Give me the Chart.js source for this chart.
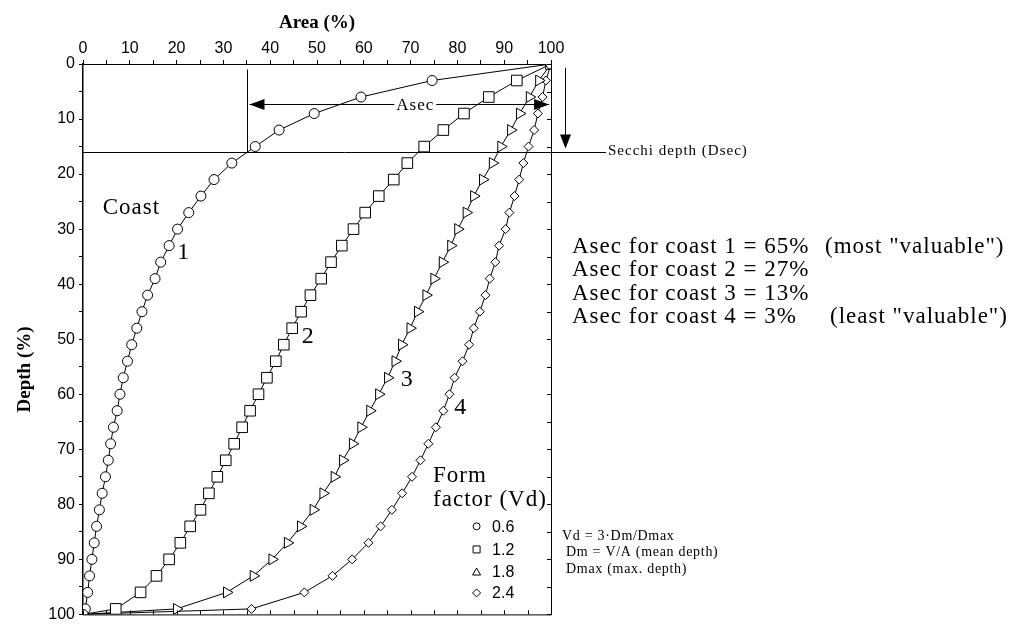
<!DOCTYPE html>
<html>
<head>
<meta charset="utf-8">
<script src="https://cdn.jsdelivr.net/npm/chart.js@4.4.0/dist/chart.umd.min.js"></script>
<style>
  html, body { margin: 0; padding: 0; background: #fff; }
  #wrap { width: 1015px; height: 628px; position: relative; }
</style>
</head>
<body>
<div id="wrap"><canvas id="chart"></canvas></div>
<script>
// depth steps (% of max depth), shared by the four coasts
const depth = [0, 3, 6, 9, 12, 15, 18, 21, 24, 27, 30, 33, 36, 39, 42, 45, 48, 51,
  54, 57, 60, 63, 66, 69, 72, 75, 78, 81, 84, 87, 90, 93, 96, 99, 100];

// area (%) at each depth
const coast1 = [100, 74.6, 59.4, 49.4, 41.9, 36.8, 31.8, 28, 25.2, 22.6, 20.2, 18.4, 16.6,
  15.4, 13.8, 12.6, 11.5, 10.4, 9.5, 8.6, 7.9, 7.3, 6.5, 5.9, 5.4, 4.8, 4.1, 3.5, 2.9,
  2.4, 1.9, 1.4, 1.0, 0.5, 0];
const coast2 = [100, 92.7, 86.7, 81.4, 77, 72.9, 69.3, 66.4, 63.2, 60.3, 57.8, 55.3, 53,
  50.9, 48.6, 46.6, 44.7, 42.9, 41.2, 39.3, 37.5, 35.7, 34, 32.3, 30.5, 28.7, 26.9, 25.1,
  22.9, 20.8, 18.4, 15.7, 12.3, 7, 0];
const coast3 = [100, 97.4, 95.4, 93.3, 91.4, 89.3, 87.5, 85.4, 83.5, 81.9, 80.1, 78.6, 76.8,
  75, 73.3, 71.5, 69.9, 68.1, 66.7, 65.1, 63.2, 61.3, 59.4, 57.6, 55.5, 53.7, 51.3, 49.2,
  46.5, 43.7, 40.4, 36.4, 30.7, 20, 0];
const coast4 = [100, 98.9, 98.2, 97.2, 96.4, 95.2, 94.1, 93.2, 92.2, 91.1, 90.3, 88.9, 88.1,
  86.9, 86, 84.8, 83.5, 82.5, 81.1, 79.4, 78.3, 77, 75.4, 73.8, 72.1, 70.3, 68.2, 66,
  63.6, 61, 57.5, 53.3, 47.3, 36, 0];

const majorTicks = [0, 10, 20, 30, 40, 50, 60, 70, 80, 90, 100];
const minorTicks = [5, 15, 25, 35, 45, 55, 65, 75, 85, 95];

const formFactor = ['0.6', '1.2', '1.8', '2.4'];
const asecLines = ['Asec for coast 1 = 65%', 'Asec for coast 2 = 27%',
  'Asec for coast 3 = 13%', 'Asec for coast 4 = 3%'];
const secchiDepth = 16;
const asecStart = 35;

const serif = '"Liberation Serif", "Times New Roman", serif';
const narrow = '"Liberation Sans Narrow", "Liberation Sans", Arial, sans-serif';

function toPoints(area) {
  return depth.map((d, i) => ({ x: area[i], y: d }));
}

function series(area, style, radius, rotation) {
  return {
    data: toPoints(area),
    showLine: true,
    borderColor: '#000',
    borderWidth: 1,
    pointStyle: style,
    pointRadius: radius,
    pointRotation: rotation || 0,
    pointBackgroundColor: '#fff',
    pointBorderColor: '#000',
    pointBorderWidth: 1
  };
}

function allTicks(scale) {
  scale.ticks = majorTicks.concat(minorTicks).sort((a, b) => a - b).map(v => ({ value: v }));
}

function arrowHead(ctx, x, y, dir, len, half) {
  ctx.beginPath();
  if (dir === 'left') { ctx.moveTo(x, y); ctx.lineTo(x + len, y - half); ctx.lineTo(x + len, y + half); }
  if (dir === 'right') { ctx.moveTo(x, y); ctx.lineTo(x - len, y - half); ctx.lineTo(x - len, y + half); }
  if (dir === 'down') { ctx.moveTo(x, y); ctx.lineTo(x - half, y - len); ctx.lineTo(x + half, y - len); }
  ctx.closePath();
  ctx.fill();
}

// the old screen font is wider than Times, so text gets a little spacing
function spaced(ctx, px) {
  ctx.letterSpacing = px + 'px';
}

const notes = {
  id: 'notes',
  afterDraw(chart) {
    const { ctx, chartArea: a, scales: { x, y } } = chart;
    ctx.save();
    ctx.strokeStyle = '#000';
    ctx.fillStyle = '#000';
    ctx.lineWidth = 1;

    // right and bottom frame with inward ticks
    ctx.beginPath();
    ctx.moveTo(a.left, a.bottom + 0.5); ctx.lineTo(a.right + 0.5, a.bottom + 0.5);
    ctx.lineTo(a.right + 0.5, a.top);
    x.ticks.forEach(t => {
      const px = Math.round(x.getPixelForValue(t.value)) + 0.5;
      ctx.moveTo(px, a.bottom); ctx.lineTo(px, a.bottom - 4);
    });
    y.ticks.forEach(t => {
      const py = Math.round(y.getPixelForValue(t.value)) + 0.5;
      ctx.moveTo(a.right, py); ctx.lineTo(a.right - 4, py);
    });
    ctx.stroke();

    // Secchi depth line
    const sy = Math.round(y.getPixelForValue(secchiDepth)) + 0.5;
    ctx.beginPath();
    ctx.moveTo(a.left, sy); ctx.lineTo(a.right + 55, sy);
    ctx.stroke();
    ctx.font = '15px ' + serif;
    spaced(ctx, 1);
    ctx.textBaseline = 'middle';
    ctx.textAlign = 'left';
    ctx.fillText('Secchi depth (Dsec)', a.right + 57, sy - 1);

    // vertical marker at Asec start
    const vx = Math.round(x.getPixelForValue(asecStart)) + 0.5;
    ctx.beginPath();
    ctx.moveTo(vx, y.getPixelForValue(1)); ctx.lineTo(vx, sy);
    ctx.stroke();

    // Asec double arrow
    const ay = Math.round(y.getPixelForValue(7.3)) + 0.5;
    const ax1 = vx + 2, ax2 = x.getPixelForValue(99.6);
    ctx.beginPath();
    ctx.moveTo(ax1, ay); ctx.lineTo(ax2, ay);
    ctx.stroke();
    arrowHead(ctx, ax1, ay, 'left', 15, 5.5);
    arrowHead(ctx, ax2, ay, 'right', 15, 5.5);
    ctx.font = '17px ' + serif;
    spaced(ctx, 1);
    ctx.textAlign = 'center';
    const tx = x.getPixelForValue(71);
    const tw = ctx.measureText('Asec').width;
    ctx.fillStyle = '#fff';
    ctx.fillRect(tx - tw / 2 - 2, ay - 4, tw + 4, 8);
    ctx.fillStyle = '#000';
    ctx.fillText('Asec', tx, ay + 1);

    // down arrow to Secchi depth
    const dx = a.right + 14.5;
    ctx.beginPath();
    ctx.moveTo(dx, y.getPixelForValue(0.7)); ctx.lineTo(dx, sy - 6);
    ctx.stroke();
    arrowHead(ctx, dx, sy - 4, 'down', 14, 5.5);

    // curve labels
    ctx.textAlign = 'left';
    ctx.font = '23px ' + serif;
    ctx.fillText('Coast', x.getPixelForValue(4.2), y.getPixelForValue(26.2));
    spaced(ctx, 0);
    ctx.textAlign = 'center';
    ctx.font = '24px ' + serif;
    ctx.fillText('1', x.getPixelForValue(21.4), y.getPixelForValue(34.2));
    ctx.fillText('2', x.getPixelForValue(48), y.getPixelForValue(49.5));
    ctx.fillText('3', x.getPixelForValue(69.2), y.getPixelForValue(57.3));
    ctx.fillText('4', x.getPixelForValue(80.6), y.getPixelForValue(62.5));

    // form factor legend
    ctx.textAlign = 'left';
    ctx.font = '23px ' + serif;
    spaced(ctx, 1);
    ctx.fillText('Form', x.getPixelForValue(74.8), y.getPixelForValue(74.9));
    ctx.fillText('factor (Vd)', x.getPixelForValue(74.8), y.getPixelForValue(79.2));
    spaced(ctx, 0);
    const lx = x.getPixelForValue(84.1), ltx = x.getPixelForValue(87.4);
    const rows = [84, 88.2, 92.3, 96.1];
    ctx.font = '16px ' + narrow;
    formFactor.forEach((f, i) => {
      const py = y.getPixelForValue(rows[i]);
      ctx.beginPath();
      if (i === 0) ctx.arc(lx, py, 3.5, 0, Math.PI * 2);
      if (i === 1) ctx.rect(lx - 3.5, py - 3.5, 7, 7);
      if (i === 2) { ctx.moveTo(lx, py - 4); ctx.lineTo(lx + 4, py + 3); ctx.lineTo(lx - 4, py + 3); ctx.closePath(); }
      if (i === 3) { ctx.moveTo(lx, py - 4); ctx.lineTo(lx + 4, py); ctx.lineTo(lx, py + 4); ctx.lineTo(lx - 4, py); ctx.closePath(); }
      ctx.stroke();
      ctx.fillText(f, ltx, py + 1);
    });

    // formula notes
    ctx.font = '14px ' + serif;
    spaced(ctx, 0.7);
    ctx.fillText('Vd = 3\u00b7Dm/Dmax', a.right + 11, y.getPixelForValue(85.8));
    ctx.fillText('Dm = V/A (mean depth)', a.right + 15, y.getPixelForValue(88.8));
    ctx.fillText('Dmax (max. depth)', a.right + 15, y.getPixelForValue(91.8));

    // Asec summary
    ctx.font = '23px ' + serif;
    spaced(ctx, 1);
    const rowY = [33.3, 37.5, 41.7, 45.9];
    asecLines.forEach((s, i) => {
      ctx.fillText(s, a.right + 21, y.getPixelForValue(rowY[i]));
    });
    ctx.fillText('(most "valuable")', a.right + 274, y.getPixelForValue(rowY[0]));
    ctx.fillText('(least "valuable")', a.right + 279, y.getPixelForValue(rowY[3]));
    spaced(ctx, 0);

    // depth axis title
    ctx.save();
    ctx.translate(25, y.getPixelForValue(55.5));
    ctx.rotate(-Math.PI / 2);
    ctx.textAlign = 'center';
    ctx.font = 'bold 19px ' + serif;
    ctx.fillText('Depth (%)', 0, 0);
    ctx.restore();

    ctx.restore();
  }
};

new Chart(document.getElementById('chart'), {
  type: 'scatter',
  data: {
    datasets: [
      series(coast1, 'circle', 5),
      series(coast2, 'rect', 7.5),
      series(coast3, 'triangle', 6.3, 90),
      series(coast4, 'rectRot', 4.5)
    ]
  },
  plugins: [notes],
  options: {
    responsive: true,
    maintainAspectRatio: false,
    animation: false,
    layout: { padding: { left: 0, top: 0, right: 464, bottom: 10 } },
    plugins: { legend: { display: false }, tooltip: { enabled: false } },
    scales: {
      x: {
        type: 'linear',
        position: 'top',
        min: 0,
        max: 100,
        afterBuildTicks: allTicks,
        afterFit: s => { s.height = 64; },
        ticks: {
          autoSkip: false, maxRotation: 0, padding: 2, color: '#000',
          font: { family: narrow, size: 16 },
          callback: v => majorTicks.includes(v) ? String(v) : ''
        },
        grid: { drawOnChartArea: false, tickLength: 4, color: '#000' },
        border: { color: '#000', width: 1 },
        title: {
          display: true, text: 'Area (%)', color: '#000',
          font: { family: serif, size: 19, weight: 'bold' },
          padding: { top: 12, bottom: 0 }
        }
      },
      y: {
        type: 'linear',
        reverse: true,
        min: 0,
        max: 100,
        afterBuildTicks: allTicks,
        afterFit: s => { s.width = 83; },
        ticks: {
          autoSkip: false, padding: 4, color: '#000',
          font: { family: narrow, size: 16 },
          callback: v => majorTicks.includes(v) ? String(v) : ''
        },
        grid: { drawOnChartArea: false, tickLength: 4, color: '#000' },
        border: { color: '#000', width: 1.5 }
      }
    }
  }
});
</script>
</body>
</html>
